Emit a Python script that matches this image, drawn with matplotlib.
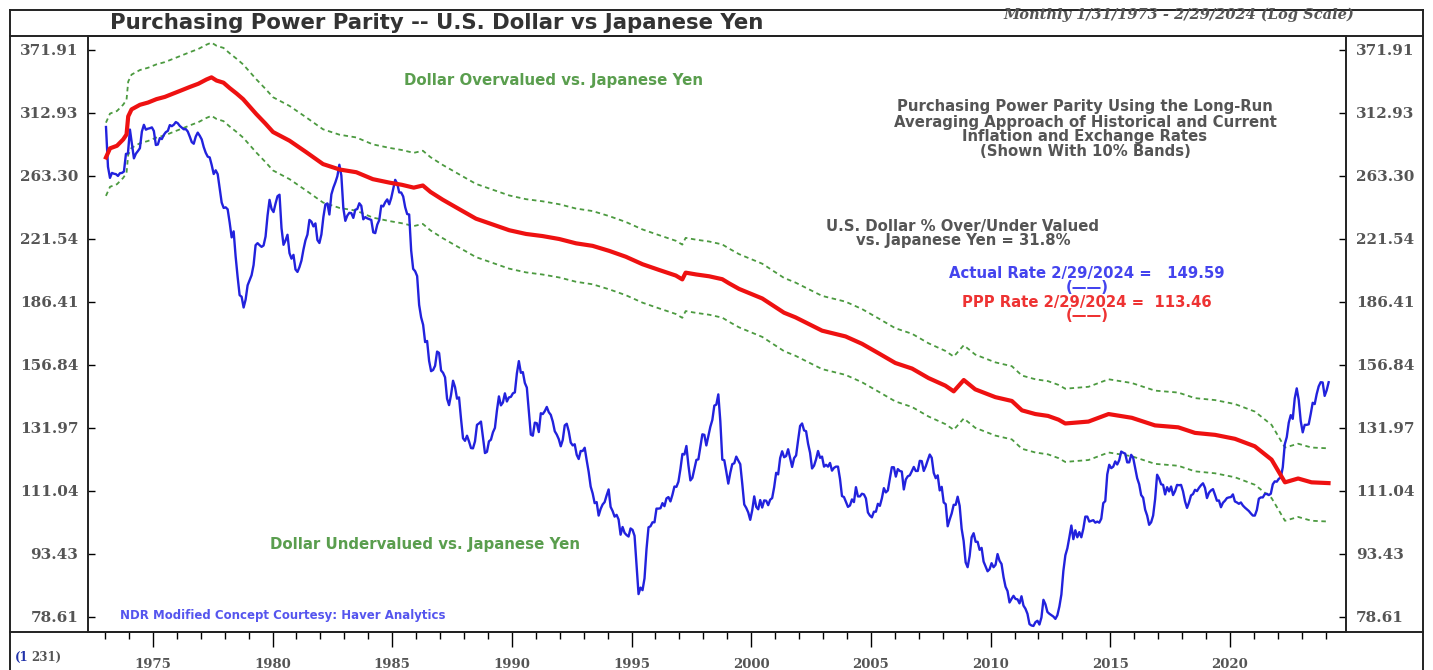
import matplotlib
matplotlib.use("Agg")
import matplotlib.pyplot as plt
from matplotlib.lines import Line2D
import numpy as np

# ---------------------------------------------------------------- data
# Monthly USD/JPY exchange rate, Jan 1973 .. Feb 2024
usd_jpy = [
    301.1, 270.0, 261.9, 265.5, 264.9, 264.6, 263.3, 265.3, 265.5, 266.5, 279.7, 280.0,  # 1973
    299.0, 287.6, 276.3, 279.9, 281.9, 284.1, 297.4, 302.9, 298.9, 299.7, 300.1, 300.8,  # 1974
    297.8, 286.6, 287.0, 292.1, 291.3, 294.7, 296.9, 297.9, 302.7, 301.8, 303.0, 305.2,  # 1975
    304.2, 302.0, 300.6, 299.2, 299.4, 297.4, 293.3, 288.9, 287.6, 293.3, 296.5, 294.0,  # 1976
    291.0, 285.0, 280.6, 277.6, 277.0, 271.3, 264.7, 267.4, 264.6, 254.6, 244.8, 241.2,  # 1977
    241.6, 240.3, 231.8, 222.5, 226.2, 211.1, 199.6, 189.9, 189.1, 183.6, 187.6, 195.1,  # 1978
    197.9, 200.6, 206.3, 217.8, 219.0, 217.8, 216.8, 217.6, 223.0, 236.2, 246.6, 240.6,  # 1979
    238.5, 244.1, 249.1, 250.1, 228.2, 218.0, 220.6, 224.1, 213.1, 209.9, 212.1, 203.8,  # 1980
    202.4, 205.1, 208.8, 215.2, 220.7, 224.2, 233.4, 232.3, 229.3, 231.2, 220.9, 219.1,  # 1981
    224.3, 235.3, 243.5, 244.2, 236.9, 250.3, 255.0, 258.7, 263.1, 271.5, 263.6, 241.0,  # 1982
    232.8, 236.2, 238.0, 237.8, 234.7, 240.0, 240.5, 244.3, 242.6, 233.8, 235.2, 234.4,  # 1983
    233.9, 233.4, 225.6, 225.1, 230.4, 233.3, 242.7, 242.2, 245.0, 246.9, 243.6, 247.8,  # 1984
    254.2, 260.5, 257.9, 251.7, 251.6, 248.9, 241.7, 237.2, 236.9, 214.7, 204.1, 202.8,  # 1985
    200.1, 184.9, 178.7, 175.1, 167.0, 167.5, 158.6, 154.2, 154.7, 156.5, 162.7, 162.1,  # 1986
    154.5, 153.5, 151.6, 143.0, 140.5, 144.5, 150.2, 147.6, 143.0, 143.5, 135.3, 128.3,  # 1987
    127.4, 129.2, 127.2, 124.9, 124.8, 127.2, 133.1, 133.6, 134.3, 128.5, 123.2, 123.6,  # 1988
    127.2, 127.8, 130.4, 132.0, 138.4, 143.9, 140.4, 141.5, 145.1, 141.9, 143.5, 143.7,  # 1989
    145.1, 145.5, 153.2, 158.5, 153.5, 153.8, 149.3, 147.4, 138.4, 129.6, 129.2, 133.9,  # 1990
    133.7, 130.5, 137.4, 137.1, 138.2, 139.8, 137.8, 136.8, 134.3, 130.8, 129.6, 128.0,  # 1991
    125.5, 127.7, 132.9, 133.5, 130.8, 126.8, 125.8, 126.2, 122.6, 121.2, 123.9, 123.9,  # 1992
    125.0, 120.8, 117.0, 112.4, 110.3, 107.4, 107.7, 103.8, 105.7, 107.0, 107.7, 109.7,  # 1993
    111.5, 106.3, 105.1, 103.5, 104.0, 102.7, 98.5, 100.6, 99.0, 98.4, 98.0, 100.2,      # 1994
    99.8, 98.2, 90.8, 83.7, 85.2, 84.6, 87.4, 94.7, 100.5, 100.8, 101.9, 101.9,          # 1995
    105.8, 105.8, 105.9, 107.4, 106.5, 108.8, 109.2, 107.9, 109.9, 112.4, 112.3, 113.9,  # 1996
    117.9, 122.9, 122.7, 125.6, 119.2, 114.3, 115.1, 117.9, 120.9, 121.1, 125.4, 129.7,  # 1997
    129.5, 125.8, 129.1, 132.4, 134.9, 140.3, 140.7, 144.7, 134.5, 121.0, 120.8, 117.1,  # 1998
    113.3, 116.7, 119.5, 119.8, 122.0, 120.7, 119.5, 113.3, 107.0, 106.0, 104.7, 102.6,  # 1999
    105.3, 109.4, 106.3, 105.6, 108.3, 106.1, 108.2, 108.1, 106.8, 108.4, 108.9, 112.2,  # 2000
    116.7, 116.2, 121.5, 123.8, 121.8, 122.2, 124.5, 121.5, 118.6, 121.5, 122.4, 127.6,  # 2001
    132.7, 133.6, 131.1, 130.8, 126.4, 123.3, 118.1, 119.0, 121.1, 123.9, 121.6, 122.0,  # 2002
    118.7, 119.3, 118.7, 119.9, 117.4, 118.3, 118.7, 118.7, 114.8, 109.5, 109.2, 107.7,  # 2003
    106.3, 106.7, 108.5, 107.7, 112.2, 109.4, 109.4, 110.2, 110.0, 108.8, 104.7, 103.8,  # 2004
    103.3, 104.9, 104.9, 107.2, 106.6, 108.8, 111.9, 110.6, 111.2, 114.9, 118.5, 118.5,  # 2005
    115.5, 117.9, 117.3, 117.1, 111.5, 114.6, 115.6, 115.9, 117.2, 118.6, 117.3, 117.3,  # 2006
    120.6, 120.5, 117.3, 118.8, 120.8, 122.7, 121.6, 116.7, 115.0, 115.9, 111.2, 112.3,  # 2007
    107.6, 107.1, 100.8, 102.7, 104.4, 106.9, 106.9, 109.3, 106.6, 100.1, 96.8, 91.3,    # 2008
    90.1, 92.9, 97.8, 98.9, 96.6, 96.6, 94.5, 95.0, 91.5, 90.3, 89.1, 89.6,              # 2009
    91.1, 90.1, 90.7, 93.4, 91.7, 90.9, 87.7, 85.4, 84.4, 81.8, 82.6, 83.3,              # 2010
    82.6, 82.5, 81.6, 83.2, 81.1, 80.4, 79.3, 77.1, 76.8, 76.7, 77.5, 77.8,              # 2011
    77.0, 78.5, 82.4, 81.4, 79.7, 79.3, 79.0, 78.7, 78.2, 79.0, 80.9, 83.6,              # 2012
    89.2, 93.1, 94.9, 97.8, 101.0, 97.3, 99.7, 97.8, 99.2, 97.8, 100.1, 103.5,           # 2013
    103.5, 102.1, 102.3, 102.5, 101.8, 102.1, 101.8, 102.9, 107.4, 108.0, 116.2, 119.3,  # 2014
    118.2, 118.7, 120.4, 119.4, 120.8, 123.7, 123.3, 123.0, 120.1, 120.1, 122.6, 121.6,  # 2015
    118.3, 115.0, 113.1, 109.8, 109.0, 105.5, 103.8, 101.2, 101.9, 103.8, 108.6, 116.1,  # 2016
    114.9, 113.1, 112.9, 110.0, 112.2, 110.9, 112.4, 109.8, 111.0, 112.9, 112.8, 112.9,  # 2017
    110.9, 107.9, 106.0, 107.6, 109.7, 110.1, 111.4, 111.0, 112.0, 112.8, 113.4, 112.0,  # 2018
    108.9, 110.5, 111.2, 111.6, 109.9, 108.1, 108.2, 106.2, 107.5, 108.1, 108.9, 109.1,  # 2019
    109.2, 110.0, 107.9, 107.6, 107.2, 107.6, 106.7, 106.1, 105.6, 105.1, 104.4, 103.8,  # 2020
    103.8, 105.4, 108.7, 109.1, 109.1, 110.1, 110.2, 109.8, 110.2, 113.1, 114.0, 113.9,  # 2021
    114.8, 115.2, 118.5, 126.2, 128.7, 133.9, 136.7, 135.3, 143.1, 147.1, 142.5, 134.5,  # 2022
    130.4, 133.1, 133.1, 133.3, 137.1, 141.4, 140.9, 144.8, 147.9, 149.6, 149.5, 144.1,  # 2023
    146.3, 149.59,                                                                       # 2024
]
first_year = 1973

# Purchasing-power-parity rate (decimal year, yen per dollar)
ppp_year = [
    1973.04, 1973.21, 1973.50, 1973.76, 1973.90, 1973.97, 1974.11, 1974.46, 1974.80, 1975.15,
    1975.50, 1975.85, 1976.20, 1976.54, 1976.90, 1977.24, 1977.45, 1977.66, 1977.95, 1978.21,
    1978.50, 1978.77, 1979.32, 1979.70, 1980.02, 1980.71, 1981.41, 1982.11, 1982.80, 1983.50,
    1984.19, 1984.89, 1985.40, 1985.90, 1986.28, 1986.60, 1987.11, 1987.81, 1988.50, 1989.20,
    1989.89, 1990.59, 1991.28, 1991.98, 1992.68, 1993.37, 1994.07, 1994.76, 1995.46, 1996.15,
    1996.85, 1997.12, 1997.26, 1997.70, 1998.24, 1998.79, 1999.07, 1999.49, 2000.46, 2001.37,
    2001.85, 2002.40, 2002.96, 2003.94, 2004.63, 2005.33, 2006.02, 2006.72, 2007.41, 2008.11,
    2008.46, 2008.88, 2009.36, 2010.20, 2010.89, 2011.31, 2011.87, 2012.40, 2012.84, 2013.12,
    2014.09, 2014.93, 2015.90, 2016.87, 2017.84, 2018.54, 2019.38, 2020.21, 2021.04, 2021.74,
    2022.30, 2022.85, 2023.41, 2024.12,
]
ppp_rate = [
    277.0, 284.0, 286.0, 291.0, 295.0, 310.0, 316.0, 320.0, 322.0, 325.0,
    327.0, 330.0, 333.0, 336.0, 339.0, 343.0, 345.0, 342.0, 340.0, 335.0,
    330.0, 325.0, 312.0, 304.0, 297.0, 290.0, 281.0, 272.0, 268.0, 266.0,
    261.0, 258.5, 257.0, 255.0, 256.5, 252.0, 246.7, 240.3, 234.2, 230.5,
    226.9, 224.6, 223.3, 221.5, 218.9, 217.4, 214.4, 211.0, 206.7, 203.5,
    200.4, 198.3, 202.0, 201.0, 200.0, 198.4, 196.2, 193.2, 188.2, 181.0,
    178.7, 175.5, 172.3, 169.6, 166.2, 161.9, 157.7, 155.3, 151.3, 148.2,
    145.9, 150.5, 146.7, 143.6, 142.1, 138.5, 137.1, 136.4, 135.0, 133.6,
    134.3, 137.1, 135.7, 132.9, 132.2, 130.2, 129.5, 128.1, 125.5, 121.0,
    113.7, 114.9, 113.7, 113.46,
]
band_pct = 0.10

y_ticks = [78.61, 93.43, 111.04, 131.97, 156.84, 186.41, 221.54, 263.30, 312.93, 371.91]
x_major_years = [1975, 1980, 1985, 1990, 1995, 2000, 2005, 2010, 2015, 2020]

# ---------------------------------------------------------------- figure
W, H = 1433, 670
fig = plt.figure(figsize=(W / 100, H / 100), dpi=100)
fig.patch.set_facecolor("white")


def fx(x):
    return x / W


def fy(y):
    return 1 - y / H


ax_l, ax_r, ax_t, ax_b = 88, 1346, 36, 632
ax = fig.add_axes([fx(ax_l), fy(ax_b), (ax_r - ax_l) / W, (ax_b - ax_t) / H])

months = np.arange(len(usd_jpy))
t_actual = first_year + (months + 0.5) / 12.0
ppp = np.array(ppp_rate)

green = "#4c9a40"
ax.plot(ppp_year, ppp * (1 + band_pct), color=green, lw=1.3, ls=(0, (2.5, 2.0)))
ax.plot(ppp_year, ppp * (1 - band_pct), color=green, lw=1.3, ls=(0, (2.5, 2.0)))
ax.plot(t_actual, usd_jpy, color="#2222dd", lw=1.7, solid_joinstyle="round")
ax.plot(ppp_year, ppp, color="#ee1111", lw=3.0, solid_joinstyle="round")

ax.set_yscale("log")
ax.set_ylim(75.44, 386.4)
ax.set_xlim(1972.29, 2024.85)

serif_tick = dict(family="DejaVu Serif", weight="bold")
ax.yaxis.set_major_locator(matplotlib.ticker.FixedLocator(y_ticks))
ax.yaxis.set_minor_locator(matplotlib.ticker.NullLocator())
ax.set_yticklabels([f"{v:.2f}" for v in y_ticks])
ax.tick_params(axis="y", which="major", direction="in", length=5, width=1.0,
               left=True, right=True, labelleft=True, labelright=True,
               labelsize=11, labelcolor="#555555", pad=7)
for lab in ax.get_yticklabels():
    lab.set(**serif_tick)

ax.xaxis.set_major_locator(matplotlib.ticker.FixedLocator(x_major_years))
ax.xaxis.set_minor_locator(matplotlib.ticker.FixedLocator(range(1973, 2025)))
ax.set_xticklabels([str(y) for y in x_major_years])
ax.tick_params(axis="x", which="major", direction="out", length=11, width=1.0,
               labelsize=9.5, labelcolor="#555555", pad=8)
ax.tick_params(axis="x", which="minor", direction="out", length=5, width=1.0)
for lab in ax.get_xticklabels():
    lab.set(**serif_tick)

for s in ax.spines.values():
    s.set_color("#222222")
    s.set_linewidth(1.4)

# outer frame and title band
frame_kw = dict(color="#222222", lw=1.4, transform=fig.transFigure)
for (x0, y0, x1, y1) in [(10, 10, 1423, 10), (10, 36, 1423, 36), (10, 10, 10, 670),
                         (1423, 10, 1423, 670), (10, 632, 1423, 632)]:
    fig.add_artist(Line2D([fx(x0), fx(x1)], [fy(y0), fy(y1)], **frame_kw))

fig.text(fx(110), fy(23), "Purchasing Power Parity -- U.S. Dollar vs Japanese Yen",
         ha="left", va="center", fontsize=15.3, weight="bold", color="#333333",
         family="DejaVu Sans")
fig.text(fx(1354), fy(15), "Monthly 1/31/1973 - 2/29/2024 (Log Scale)",
         ha="right", va="center", fontsize=10.5, color="#555555", weight="bold",
         family="DejaVu Serif", style="italic")

# annotations inside the plot
sans = dict(family="DejaVu Sans", weight="bold")
fig.text(fx(554), fy(80), "Dollar Overvalued vs. Japanese Yen", ha="center", va="center",
         fontsize=10.8, color="#5a9e4e", **sans)
fig.text(fx(425), fy(545), "Dollar Undervalued vs. Japanese Yen", ha="center", va="center",
         fontsize=10.8, color="#5a9e4e", **sans)

block = ["Purchasing Power Parity Using the Long-Run",
         "Averaging Approach of Historical and Current",
         "Inflation and Exchange Rates",
         "(Shown With 10% Bands)"]
for i, line in enumerate(block):
    fig.text(fx(1085), fy(107 + 15 * i), line, ha="center", va="center",
             fontsize=10.7, color="#555555", **sans)

fig.text(fx(963), fy(226), "U.S. Dollar % Over/Under Valued", ha="center", va="center",
         fontsize=10.7, color="#555555", **sans)
fig.text(fx(963), fy(241), "vs. Japanese Yen = 31.8%", ha="center", va="center",
         fontsize=10.7, color="#555555", **sans)

fig.text(fx(1087), fy(273), "Actual Rate 2/29/2024 =   149.59", ha="center", va="center",
         fontsize=10.7, color="#4444ee", **sans)
fig.text(fx(1087), fy(288), "(\u2014\u2014)", ha="center", va="center",
         fontsize=10.7, color="#4444ee", **sans)
fig.text(fx(1087), fy(302), "PPP Rate 2/29/2024 =  113.46", ha="center", va="center",
         fontsize=10.7, color="#ee3333", **sans)
fig.text(fx(1087), fy(316), "(\u2014\u2014)", ha="center", va="center",
         fontsize=10.7, color="#ee3333", **sans)

fig.text(fx(120), fy(616), "NDR Modified Concept Courtesy: Haver Analytics", ha="left",
         va="center", fontsize=8.5, color="#5555ee", **sans)

fig.text(fx(15), fy(657), "(1", ha="left", va="center", fontsize=8.5,
         color="#2233aa", family="DejaVu Serif", weight="bold")
fig.text(fx(31), fy(657), "231)", ha="left", va="center", fontsize=8.5,
         color="#555555", family="DejaVu Serif", weight="bold")

fig.savefig("out.png", dpi=100, facecolor="white")
